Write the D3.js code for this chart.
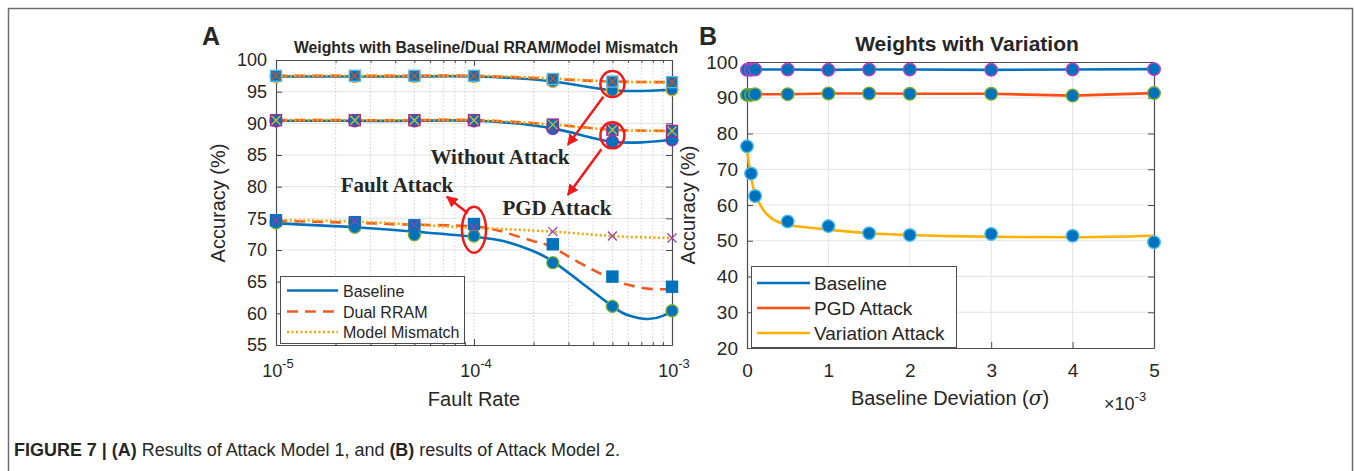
<!DOCTYPE html>
<html>
<head>
<meta charset="utf-8">
<script src="https://cdn.jsdelivr.net/npm/d3@7"></script>
<style>
  body { margin: 0; background: #fff; }
  text { font-family: "Liberation Sans", Arial, sans-serif; fill: #262626; }
</style>
</head>
<body>
<svg></svg>
<script>
// ---- data ----
// panel A: fault rate on a log axis
let faultRate = [1e-5, 2.5e-5, 5e-5, 1e-4, 2.5e-4, 5e-4, 1e-3];
let cleanBaseline = [97.4, 97.4, 97.4, 97.4, 96.6, 95.2, 95.3];
let cleanDual     = [97.5, 97.5, 97.5, 97.5, 97.0, 96.6, 96.5];
let cleanMismatch = [97.5, 97.5, 97.5, 97.5, 97.1, 96.6, 96.5];
let pgdBaseline   = [90.4, 90.4, 90.4, 90.4, 89.2, 87.1, 87.4];
let pgdDual       = [90.5, 90.5, 90.5, 90.5, 89.8, 89.0, 88.8];
let pgdMismatch   = [90.5, 90.5, 90.5, 90.5, 89.8, 89.0, 88.8];
let faultBaseline = [74.3, 73.6, 72.4, 72.2, 68.0, 61.1, 60.4];
let faultDual     = [74.7, 74.4, 73.9, 74.1, 70.9, 65.8, 64.2];
let faultMismatch = [74.7, 74.5, 74.0, 73.5, 72.9, 72.2, 71.9];
// fitted curves for the fault-attack lines (they do not pass through every marker)
let faultFitX = [1e-5, 2.5e-5, 5e-5, 1e-4, 1.5e-4, 2e-4, 2.5e-4, 3.5e-4, 5e-4, 6e-4, 7.5e-4, 9e-4, 1e-3];
let faultBaselineFit = [74.2, 73.6, 72.9, 72.1, 71.2, 69.8, 68.2, 64.8, 61.1, 59.7, 59.1, 59.6, 60.4];
let faultDualFit     = [74.6, 74.3, 74.0, 73.7, 72.6, 71.4, 70.4, 67.8, 65.4, 64.5, 63.9, 63.8, 63.8];
let yTicksA = [55, 60, 65, 70, 75, 80, 85, 90, 95, 100];
let xTicksA = [1e-5, 1e-4, 1e-3];
let xTickLabelsA = ['-5', '-4', '-3'];

// panel B: baseline deviation (x1e-3)
let deviation   = [0, 0.05, 0.1, 0.5, 1, 1.5, 2, 3, 4, 5];
let varBaseline = [97.8, 97.8, 97.9, 97.9, 97.8, 97.9, 97.9, 97.8, 97.9, 98.0];
let varPgd      = [90.8, 90.8, 91.0, 91.0, 91.2, 91.2, 91.1, 91.1, 90.6, 91.3];
let varAttack   = [76.4, 68.8, 62.5, 55.4, 54.1, 52.1, 51.6, 51.9, 51.4, 49.6];
// fitted curve drawn through the variation attack points
let varFitX = [0, 0.03, 0.06, 0.1, 0.15, 0.2, 0.3, 0.4, 0.5, 0.75, 1, 1.5, 2, 2.5, 3, 4, 5];
let varFitY = [75.5, 70.5, 66.5, 63.2, 60.6, 58.6, 56.3, 55.1, 54.5, 53.7, 53.1, 52.1, 51.6, 51.3, 51.1, 51.0, 51.4];
let yTicksB = [20, 30, 40, 50, 60, 70, 80, 90, 100];
let xTicksB = [0, 1, 2, 3, 4, 5];

// colours
let blue = '#0072BD', red = '#EE5A24', yellow = '#F5A300';
let edgeYellow = '#EDB120', edgePurple = '#9A2F9A', edgeGreen = '#77AC30', edgeCyan = '#4DBEEE', edgeMagenta = '#C040C0';

// ---- layout ----
let config = { svg: { width: 1354, height: 471 }, a: {}, b: {} };
config.a = { left: 276, right: 672, top: 60, bottom: 345 };
config.b = { left: 747, right: 1154, top: 62, bottom: 348 };

let svg = d3.select('svg')
  .attr('width', config.svg.width)
  .attr('height', config.svg.height);

svg.append('rect').attr('width', config.svg.width).attr('height', config.svg.height).attr('fill', '#fff');
// figure frame
svg.append('rect')
  .attr('x', 8.5).attr('y', 8.5).attr('width', 1344).attr('height', 480)
  .attr('fill', 'none').attr('stroke', '#6d6d6d').attr('stroke-width', 1.5);

function translate(x, y) {
  return 'translate(' + x + ',' + y + ')';
}
function pairs(xs, ys) { return xs.map((x, i) => [x, ys[i]]); }

// ================= PANEL A =================
let xA = d3.scaleLog().domain([1e-5, 1e-3]).range([config.a.left, config.a.right]);
let yA = d3.scaleLinear().domain([55, 100]).range([config.a.bottom, config.a.top]);

let gA = svg.append('g');

// minor ticks of the log axis
let minorA = [];
[1e-5, 1e-4].forEach(function(d) {
  for (let k = 2; k <= 9; k++) minorA.push(d * k);
});

// grid
gA.selectAll('.hgrid').data(yTicksA.slice(1, -1)).enter().append('line')
  .attr('x1', config.a.left).attr('x2', config.a.right)
  .attr('y1', d => yA(d)).attr('y2', d => yA(d))
  .attr('stroke', '#e3e3e3').attr('stroke-width', 1);
gA.selectAll('.vgrid').data(minorA.concat([1e-4])).enter().append('line')
  .attr('x1', d => xA(d)).attr('x2', d => xA(d))
  .attr('y1', config.a.top).attr('y2', config.a.bottom)
  .attr('stroke', '#cfcfcf').attr('stroke-width', 1).attr('stroke-dasharray', '1.5,2');

// axes box + ticks
let axA = gA.append('g');
axA.append('g').attr('transform', translate(0, config.a.bottom))
  .call(d3.axisBottom(xA).tickValues(xTicksA).tickSizeInner(-6).tickSizeOuter(0).tickFormat(''));
axA.append('g').attr('transform', translate(0, config.a.top))
  .call(d3.axisTop(xA).tickValues(xTicksA).tickSizeInner(-6).tickSizeOuter(0).tickFormat(''));
axA.append('g').attr('transform', translate(0, config.a.bottom))
  .call(d3.axisBottom(xA).tickValues(minorA).tickSizeInner(-3).tickSizeOuter(0).tickFormat(''));
axA.append('g').attr('transform', translate(0, config.a.top))
  .call(d3.axisTop(xA).tickValues(minorA).tickSizeInner(-3).tickSizeOuter(0).tickFormat(''));
axA.append('g').attr('transform', translate(config.a.left, 0))
  .call(d3.axisLeft(yA).tickValues(yTicksA).tickSizeInner(-6).tickSizeOuter(0).tickPadding(9));
axA.append('g').attr('transform', translate(config.a.right, 0))
  .call(d3.axisRight(yA).tickValues(yTicksA).tickSizeInner(-6).tickSizeOuter(0).tickFormat(''));
axA.selectAll('.domain, .tick line').attr('stroke', '#4d4d4d');
axA.selectAll('.domain').attr('stroke-width', 1.2);
axA.selectAll('.tick text').attr('font-size', 18).attr('fill', '#262626')
  .attr('font-family', '"Liberation Sans", Arial, sans-serif');

// x tick labels 10^n
xTicksA.forEach(function(d, i) {
  let t = gA.append('text').attr('x', xA(d) + 2).attr('y', 377)
    .attr('text-anchor', 'middle').attr('font-size', 18);
  t.append('tspan').text('10');
  t.append('tspan').attr('dy', -9).attr('font-size', 13).text(xTickLabelsA[i]);
});

// lines
let curveA = d3.line()
  .x(d => xA(d[0])).y(d => yA(d[1]))
  .curve(d3.curveNatural);

let seriesA = [
  { xs: faultRate, vals: cleanBaseline, kind: 'base' },
  { xs: faultRate, vals: pgdBaseline, kind: 'base' },
  { xs: faultFitX, vals: faultBaselineFit, kind: 'base' },
  { xs: faultRate, vals: cleanDual, kind: 'dual' },
  { xs: faultRate, vals: pgdDual, kind: 'dual' },
  { xs: faultFitX, vals: faultDualFit, kind: 'dual' },
  { xs: faultRate, vals: cleanMismatch, kind: 'mis' },
  { xs: faultRate, vals: pgdMismatch, kind: 'mis' },
  { xs: faultRate, vals: faultMismatch, kind: 'mis' }
];
let lineStyle = {
  base: { stroke: blue, dash: null },
  dual: { stroke: red, dash: '11,7' },
  mis:  { stroke: yellow, dash: '2,2.5' }
};
seriesA.forEach(function(s) {
  gA.append('path')
    .datum(pairs(s.xs, s.vals))
    .attr('fill', 'none')
    .attr('stroke', lineStyle[s.kind].stroke)
    .attr('stroke-width', 2.6)
    .attr('stroke-dasharray', lineStyle[s.kind].dash)
    .attr('d', curveA);
});

// markers
function circles(g, xs, ys, xs_, ys_, edge, r) {
  g.append('g').selectAll('circle').data(pairs(xs, ys)).enter().append('circle')
    .attr('cx', d => xs_(d[0])).attr('cy', d => ys_(d[1])).attr('r', r)
    .attr('fill', blue).attr('stroke', edge).attr('stroke-width', 1.4);
}
function squares(g, xs, ys, edge) {
  g.append('g').selectAll('rect').data(pairs(xs, ys)).enter().append('rect')
    .attr('x', d => xA(d[0]) - 5.5).attr('y', d => yA(d[1]) - 5.5)
    .attr('width', 11).attr('height', 11)
    .attr('fill', blue).attr('stroke', edge).attr('stroke-width', 1.4);
}
function crosses(g, xs, ys, color) {
  g.append('g').selectAll('path').data(pairs(xs, ys)).enter().append('path')
    .attr('d', function(d) {
      let x = xA(d[0]), y = yA(d[1]), s = 4.5;
      return 'M' + (x - s) + ',' + (y - s) + 'L' + (x + s) + ',' + (y + s) +
             'M' + (x - s) + ',' + (y + s) + 'L' + (x + s) + ',' + (y - s);
    })
    .attr('stroke', color).attr('stroke-width', 1.3).attr('fill', 'none');
}
circles(gA, faultRate, cleanBaseline, xA, yA, edgeYellow, 6);
squares(gA, faultRate, cleanDual, edgeCyan);
crosses(gA, faultRate, cleanMismatch, '#D95319');
circles(gA, faultRate, pgdBaseline, xA, yA, edgePurple, 6);
squares(gA, faultRate, pgdDual, edgePurple);
crosses(gA, faultRate, pgdMismatch, edgeYellow);
circles(gA, faultRate, faultBaseline, xA, yA, edgeGreen, 6);
squares(gA, faultRate, faultDual, blue);
crosses(gA, faultRate, faultMismatch, '#9A3FA8');

// annotations (ellipses + arrows)
let annRed = '#F01A1A';
let ellipses = [
  { x: 5e-4, y: 96.2, rx: 12, ry: 13 },
  { x: 5e-4, y: 88.1, rx: 12, ry: 13 },
  { x: 1e-4, y: 73.2, rx: 12, ry: 23 }
];
gA.selectAll('.ell').data(ellipses).enter().append('ellipse')
  .attr('cx', d => xA(d.x)).attr('cy', d => yA(d.y))
  .attr('rx', d => d.rx).attr('ry', d => d.ry)
  .attr('fill', 'none').attr('stroke', annRed).attr('stroke-width', 2.5);

svg.append('defs').append('marker')
  .attr('id', 'arrow').attr('viewBox', '0 0 10 10')
  .attr('refX', 9).attr('refY', 5)
  .attr('markerWidth', 4.5).attr('markerHeight', 4.5).attr('orient', 'auto')
  .append('path').attr('d', 'M0,0 L10,5 L0,10 z').attr('fill', annRed);

let arrows = [
  { x1: 4.5e-4, y1: 94.2, x2: 2.98e-4, y2: 86.6 },
  { x1: 4.4e-4, y1: 85.9, x2: 2.98e-4, y2: 78.7 },
  { x1: 9.3e-5, y1: 75.8, x2: 7.3e-5, y2: 78.4 }
];
gA.selectAll('.arr').data(arrows).enter().append('line')
  .attr('x1', d => xA(d.x1)).attr('y1', d => yA(d.y1))
  .attr('x2', d => xA(d.x2)).attr('y2', d => yA(d.y2))
  .attr('stroke', annRed).attr('stroke-width', 2.5).attr('marker-end', 'url(#arrow)');

let notes = [
  { text: 'Without Attack', x: 500, y: 164 },
  { text: 'Fault Attack', x: 397, y: 192 },
  { text: 'PGD Attack', x: 557, y: 215 }
];
gA.selectAll('.note').data(notes).enter().append('text')
  .attr('x', d => d.x).attr('y', d => d.y).attr('text-anchor', 'middle')
  .style('font-family', '"Liberation Serif", "Times New Roman", serif')
  .attr('font-weight', 'bold').attr('font-size', 21).attr('fill', '#111')
  .text(d => d.text);

// legend A
let legA = gA.append('g');
legA.append('rect').attr('x', 280.5).attr('y', 276.5).attr('width', 184).attr('height', 67)
  .attr('fill', '#fff').attr('stroke', '#4d4d4d').attr('stroke-width', 1);
let legItemsA = [
  { label: 'Baseline', kind: 'base', y: 290.5 },
  { label: 'Dual RRAM', kind: 'dual', y: 311.5 },
  { label: 'Model Mismatch', kind: 'mis', y: 332 }
];
legItemsA.forEach(function(d) {
  legA.append('line').attr('x1', 287).attr('x2', 338).attr('y1', d.y).attr('y2', d.y)
    .attr('stroke', lineStyle[d.kind].stroke).attr('stroke-width', 2.6)
    .attr('stroke-dasharray', lineStyle[d.kind].dash);
  legA.append('text').attr('x', 343).attr('y', d.y + 6).attr('font-size', 16).text(d.label);
});

// titles and labels A
svg.append('text').attr('x', 202).attr('y', 45).attr('font-size', 25).attr('font-weight', 'bold')
  .attr('fill', '#000').text('A');
svg.append('text').attr('x', 486).attr('y', 53).attr('text-anchor', 'middle')
  .attr('font-size', 15.8).attr('font-weight', 'bold').attr('fill', '#000')
  .text('Weights with Baseline/Dual RRAM/Model Mismatch');
svg.append('text').attr('x', 474).attr('y', 406).attr('text-anchor', 'middle')
  .attr('font-size', 20).text('Fault Rate');
svg.append('text').attr('transform', translate(225, 203) + ' rotate(-90)')
  .attr('text-anchor', 'middle').attr('font-size', 20).text('Accuracy (%)');

// ================= PANEL B =================
let xB = d3.scaleLinear().domain([0, 5]).range([config.b.left, config.b.right]);
let yB = d3.scaleLinear().domain([20, 100]).range([config.b.bottom, config.b.top]);
let gB = svg.append('g');

gB.selectAll('.hgrid').data(yTicksB.slice(1, -1)).enter().append('line')
  .attr('x1', config.b.left).attr('x2', config.b.right)
  .attr('y1', d => yB(d)).attr('y2', d => yB(d))
  .attr('stroke', '#e3e3e3');
gB.selectAll('.vgrid').data(xTicksB.slice(1, -1)).enter().append('line')
  .attr('x1', d => xB(d)).attr('x2', d => xB(d))
  .attr('y1', config.b.top).attr('y2', config.b.bottom)
  .attr('stroke', '#e3e3e3');

let axB = gB.append('g');
axB.append('g').attr('transform', translate(0, config.b.bottom))
  .call(d3.axisBottom(xB).tickValues(xTicksB).tickFormat(d3.format('d'))
    .tickSizeInner(-6).tickSizeOuter(0).tickPadding(16));
axB.append('g').attr('transform', translate(0, config.b.top))
  .call(d3.axisTop(xB).tickValues(xTicksB).tickSizeInner(-6).tickSizeOuter(0).tickFormat(''));
axB.append('g').attr('transform', translate(config.b.left, 0))
  .call(d3.axisLeft(yB).tickValues(yTicksB).tickSizeInner(-6).tickSizeOuter(0).tickPadding(9));
axB.append('g').attr('transform', translate(config.b.right, 0))
  .call(d3.axisRight(yB).tickValues(yTicksB).tickSizeInner(-6).tickSizeOuter(0).tickFormat(''));
axB.selectAll('.domain, .tick line').attr('stroke', '#4d4d4d');
axB.selectAll('.domain').attr('stroke-width', 1.2);
axB.selectAll('.tick text').attr('font-size', 19).attr('fill', '#262626')
  .attr('font-family', '"Liberation Sans", Arial, sans-serif');

let lineB = d3.line().x(d => xB(d[0])).y(d => yB(d[1]));
gB.append('path').datum(pairs(deviation, varBaseline))
  .attr('fill', 'none').attr('stroke', blue).attr('stroke-width', 2.6).attr('d', lineB);
gB.append('path').datum(pairs(deviation, varPgd))
  .attr('fill', 'none').attr('stroke', '#FF4D14').attr('stroke-width', 2.6).attr('d', lineB);
gB.append('path').datum(pairs(varFitX, varFitY))
  .attr('fill', 'none').attr('stroke', '#FFB000').attr('stroke-width', 2.6)
  .attr('d', lineB.curve(d3.curveMonotoneX));

circles(gB, deviation, varBaseline, xB, yB, edgeMagenta, 6.3);
circles(gB, deviation, varPgd, xB, yB, edgeGreen, 6.3);
circles(gB, deviation, varAttack, xB, yB, edgeCyan, 6.3);

// legend B
let legB = gB.append('g');
legB.append('rect').attr('x', 751.5).attr('y', 266.5).attr('width', 205).attr('height', 81)
  .attr('fill', '#fff').attr('stroke', '#4d4d4d').attr('stroke-width', 1);
let legItemsB = [
  { label: 'Baseline', color: blue, y: 283 },
  { label: 'PGD Attack', color: '#FF4D14', y: 308 },
  { label: 'Variation Attack', color: '#FFB000', y: 333 }
];
legItemsB.forEach(function(d) {
  legB.append('line').attr('x1', 757).attr('x2', 810).attr('y1', d.y).attr('y2', d.y)
    .attr('stroke', d.color).attr('stroke-width', 2.6);
  legB.append('text').attr('x', 814).attr('y', d.y + 7).attr('font-size', 19).text(d.label);
});

svg.append('text').attr('x', 699).attr('y', 45).attr('font-size', 25).attr('font-weight', 'bold')
  .attr('fill', '#000').text('B');
svg.append('text').attr('x', 967).attr('y', 51).attr('text-anchor', 'middle')
  .attr('font-size', 21).attr('font-weight', 'bold').attr('fill', '#000')
  .text('Weights with Variation');
let xl = svg.append('text').attr('x', 950).attr('y', 405).attr('text-anchor', 'middle')
  .attr('font-size', 20);
xl.append('tspan').text('Baseline Deviation (');
xl.append('tspan').attr('font-style', 'italic')
  .style('font-family', '"DejaVu Serif", serif').text('σ');
xl.append('tspan').text(')');
let ex = svg.append('text').attr('x', 1104).attr('y', 410).attr('font-size', 18);
ex.append('tspan').text('×10');
ex.append('tspan').attr('dy', -9).attr('font-size', 13).text('-3');
svg.append('text').attr('transform', translate(695, 205) + ' rotate(-90)')
  .attr('text-anchor', 'middle').attr('font-size', 20).text('Accuracy (%)');

// caption
let cap = svg.append('text').attr('x', 14).attr('y', 456).attr('font-size', 17.5)
  .style('font-family', '"Liberation Sans Narrow", "Arial Narrow", "Liberation Sans", sans-serif')
  .attr('fill', '#231F20').attr('textLength', 606).attr('lengthAdjust', 'spacingAndGlyphs');
cap.append('tspan').attr('font-weight', 'bold').text('FIGURE 7 | (A)');
cap.append('tspan').text(' Results of Attack Model 1, and ');
cap.append('tspan').attr('font-weight', 'bold').text('(B)');
cap.append('tspan').text(' results of Attack Model 2.');
</script>
</body>
</html>
